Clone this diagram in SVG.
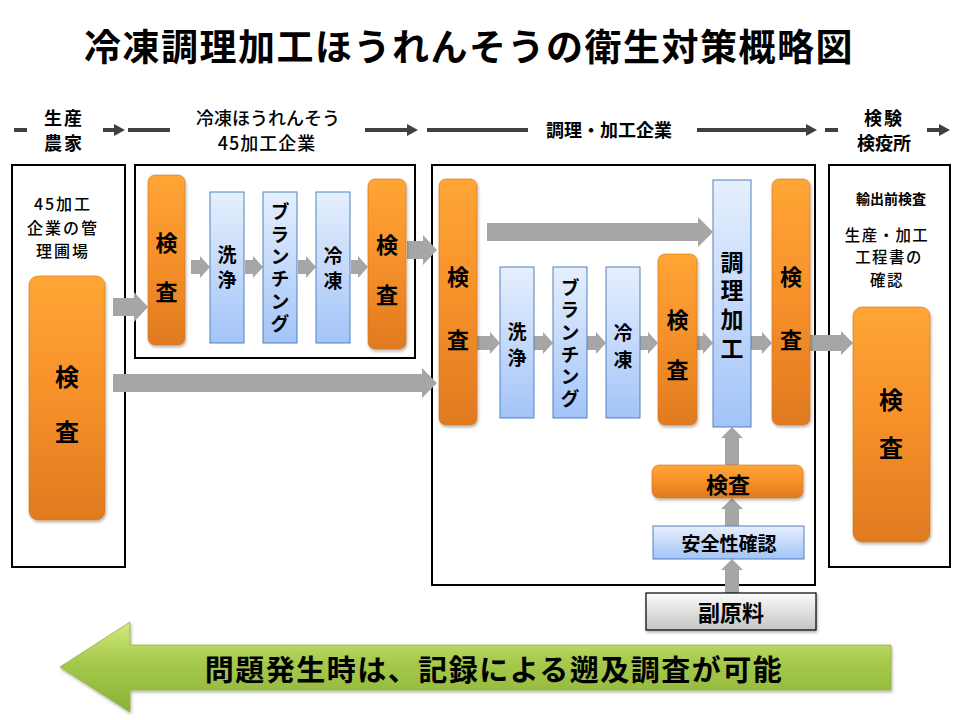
<svg xmlns="http://www.w3.org/2000/svg" width="960" height="720" viewBox="0 0 960 720">
<defs>
<linearGradient id="gO" x1="0" y1="0" x2="0" y2="1"><stop offset="0" stop-color="#FFA535"/><stop offset="0.5" stop-color="#F6902A"/><stop offset="1" stop-color="#E07A1F"/></linearGradient>
<linearGradient id="gB" x1="0" y1="0" x2="0" y2="1"><stop offset="0" stop-color="#E6EFFD"/><stop offset="1" stop-color="#A3C4F8"/></linearGradient>
<linearGradient id="gG" x1="0" y1="0" x2="0" y2="1"><stop offset="0" stop-color="#D2EA80"/><stop offset="0.45" stop-color="#A6C94B"/><stop offset="1" stop-color="#8AB236"/></linearGradient>
<linearGradient id="gS" x1="0" y1="0" x2="0" y2="1"><stop offset="0" stop-color="#FBFBFB"/><stop offset="1" stop-color="#C4C4C4"/></linearGradient>
<filter id="sh" x="-20%" y="-20%" width="140%" height="140%"><feDropShadow dx="1" dy="2" stdDeviation="1.5" flood-color="#000" flood-opacity="0.3"/></filter>
<style>
text{font-family:"Noto Sans CJK JP","Noto Sans",sans-serif;text-anchor:middle;fill:#000}
.b{font-weight:bold}
.v{writing-mode:vertical-rl;text-anchor:start;font-weight:bold}
.frame{fill:none;stroke:#000;stroke-width:2}
.org{fill:url(#gO);stroke:#D27220;stroke-width:0.6;filter:url(#sh)}
.blu{fill:url(#gB);stroke:#4F81BD;stroke-width:1}
.arr{fill:#A6A6A6}
.hd{fill:#404040}
.hl{stroke:#404040;stroke-width:4}
</style>
</defs>
<rect width="960" height="720" fill="#fff"/>

<text x="469" y="61" class="b" font-size="37" letter-spacing="1.5">冷凍調理加工ほうれんそうの衛生対策概略図</text>

<!-- header -->
<g id="header">
<line class="hl" x1="14" y1="130" x2="27" y2="130"/>
<line class="hl" x1="103" y1="130" x2="116" y2="130"/><polygon class="hd" points="114,124 125,130 114,136"/>
<line class="hl" x1="128" y1="130" x2="170" y2="130"/>
<line class="hl" x1="365" y1="130" x2="409" y2="130"/><polygon class="hd" points="407,124 418,130 407,136"/>
<line class="hl" x1="427" y1="130" x2="528" y2="130"/>
<line class="hl" x1="697" y1="130" x2="808" y2="130"/><polygon class="hd" points="806,124 817,130 806,136"/>
<line class="hl" x1="825" y1="130" x2="838" y2="130"/>
<line class="hl" x1="927" y1="130" x2="941" y2="130"/><polygon class="hd" points="939,124 950,130 939,136"/>
<text class="b" font-size="18" letter-spacing="2"><tspan x="64" y="125">生産</tspan><tspan x="64" y="150">農家</tspan></text>
<text font-size="18" font-weight="500"><tspan x="268" y="125">冷凍ほうれんそう</tspan><tspan x="267" y="150" letter-spacing="1">45加工企業</tspan></text>
<text x="609" y="137" class="b" font-size="18">調理・加工企業</text>
<text class="b" font-size="18"><tspan x="884" y="125" letter-spacing="2">検験</tspan><tspan x="884" y="150">検疫所</tspan></text>
</g>

<!-- frames -->
<g id="frames">
<rect class="frame" x="12" y="165" width="113" height="402"/>
<rect class="frame" x="135" y="165" width="280" height="193"/>
<rect class="frame" x="432" y="165" width="383" height="420"/>
<rect class="frame" x="829" y="165" width="121" height="402"/>
</g>

<!-- connectors -->
<g id="connectors">
<polygon class="arr" points="113,298 134,298 134,292 148,307 134,322 134,316 113,316"/>
<polygon class="arr" points="113,374 422,374 422,368 437,383 422,398 422,392 113,392"/>
<polygon class="arr" points="191,260 200,260 200,256 210,267 200,278 200,274 191,274"/>
<polygon class="arr" points="245,260 253,260 253,256 263,267 253,278 253,274 245,274"/>
<polygon class="arr" points="298,260 306,260 306,256 316,267 306,278 306,274 298,274"/>
<polygon class="arr" points="351,260 358,260 358,256 368,267 358,278 358,274 351,274"/>
<polygon class="arr" points="407,241 423,241 423,235 437,250 423,265 423,259 407,259"/>
<polygon class="arr" points="487,223 698,223 698,217 713,232 698,247 698,241 487,241"/>
<polygon class="arr" points="477,336 490,336 490,332 500,343 490,354 490,350 477,350"/>
<polygon class="arr" points="534,336 543,336 543,332 553,343 543,354 543,350 534,350"/>
<polygon class="arr" points="587,336 596,336 596,332 606,343 596,354 596,350 587,350"/>
<polygon class="arr" points="640,336 648,336 648,332 658,343 648,354 648,350 640,350"/>
<polygon class="arr" points="697,336 703,336 703,332 713,343 703,354 703,350 697,350"/>
<polygon class="arr" points="751,336 762,336 762,332 772,343 762,354 762,350 751,350"/>
<polygon class="arr" points="810,335 841,335 841,331 853,343 841,355 841,351 810,351"/>
<polygon class="arr" points="725,465 725,438 721,438 732,427 743,438 739,438 739,465"/>
<polygon class="arr" points="725,526 725,509 721,509 732,498 743,509 739,509 739,526"/>
<polygon class="arr" points="725,593 725,570 721,570 732,559 743,570 739,570 739,593"/>
</g>

<!-- left farm -->
<g id="farm-text">
<text font-size="16" font-weight="500" letter-spacing="2"><tspan x="63" y="210">45加工</tspan><tspan x="63" y="233.5">企業の管</tspan><tspan x="63" y="257">理圃場</tspan></text>
</g>
<g id="farm-check">
<rect class="org" x="29" y="276" width="76" height="244" rx="9"/>
<text x="67" y="386" class="b" font-size="24">検</text>
<text x="67" y="441" class="b" font-size="24">査</text>
</g>

<!-- 45 processing -->
<g id="p-check1">
<rect class="org" x="148" y="175" width="37" height="170" rx="7"/>
<text x="166.5" y="251" class="b" font-size="22">検</text>
<text x="166.5" y="300" class="b" font-size="22">査</text>
</g>
<g id="p-wash">
<rect class="blu" x="210" y="192" width="34" height="151"/>
<text x="227" y="245.5" class="v" font-size="19" letter-spacing="6">洗浄</text>
</g>
<g id="p-blanch">
<rect class="blu" x="263" y="192" width="34" height="151"/>
<text x="280" y="202.5" class="v" font-size="19" letter-spacing="3.4">ブランチング</text>
</g>
<g id="p-freeze">
<rect class="blu" x="316" y="192" width="34" height="151"/>
<text x="333" y="246.5" class="v" font-size="19" letter-spacing="6">冷凍</text>
</g>
<g id="p-check2">
<rect class="org" x="368" y="179" width="38" height="170" rx="7"/>
<text x="387" y="253" class="b" font-size="22">検</text>
<text x="387" y="303" class="b" font-size="22">査</text>
</g>

<!-- cooking company -->
<g id="c-checkA">
<rect class="org" x="439" y="179" width="38" height="246" rx="7"/>
<text x="458" y="285" class="b" font-size="22">検</text>
<text x="458" y="348" class="b" font-size="22">査</text>
</g>
<g id="c-wash">
<rect class="blu" x="500" y="267" width="34" height="151"/>
<text x="517" y="322.5" class="v" font-size="19" letter-spacing="7">洗浄</text>
</g>
<g id="c-blanch">
<rect class="blu" x="553" y="267" width="34" height="151"/>
<text x="570" y="278.5" class="v" font-size="19" letter-spacing="3.2">ブランチング</text>
</g>
<g id="c-freeze">
<rect class="blu" x="606" y="267" width="34" height="151"/>
<text x="623" y="323.5" class="v" font-size="19" letter-spacing="8">冷凍</text>
</g>
<g id="c-checkB">
<rect class="org" x="658" y="254" width="39" height="171" rx="7"/>
<text x="677.5" y="328" class="b" font-size="22">検</text>
<text x="677.5" y="378" class="b" font-size="22">査</text>
</g>
<g id="c-cook">
<rect class="blu" x="713" y="180" width="38" height="247"/>
<text x="732" y="250.5" class="v" font-size="23" letter-spacing="5.7">調理加工</text>
</g>
<g id="c-checkC">
<rect class="org" x="772" y="179" width="38" height="246" rx="7"/>
<text x="791" y="285" class="b" font-size="22">検</text>
<text x="791" y="348" class="b" font-size="22">査</text>
</g>
<g id="c-check-sub">
<rect class="org" x="652" y="465" width="151" height="33" rx="7"/>
<text x="728" y="493" class="b" font-size="22">検査</text>
</g>
<g id="c-safety">
<rect class="blu" x="653" y="526" width="151" height="33"/>
<text x="729" y="551" class="b" font-size="19">安全性確認</text>
</g>
<g id="sub-material">
<rect x="646" y="593" width="170" height="37" fill="url(#gS)" stroke="#000" stroke-width="1.2" filter="url(#sh)"/>
<text x="731" y="621" class="b" font-size="22">副原料</text>
</g>

<!-- inspection station -->
<g id="inspection-text">
<text x="891" y="204" class="b" font-size="14">輸出前検査</text>
<text font-size="15.4" font-weight="500" letter-spacing="1.5"><tspan x="887" y="240.7">生産・加工</tspan><tspan x="889" y="263.2">工程書の</tspan><tspan x="887" y="285.7">確認</tspan></text>
</g>
<g id="inspection-check">
<rect class="org" x="853" y="307" width="77" height="235" rx="9"/>
<text x="891" y="409" class="b" font-size="24">検</text>
<text x="891" y="457" class="b" font-size="24">査</text>
</g>

<!-- traceback arrow -->
<g id="traceback">
<polygon points="60,667 130,622 130,645 891,645 891,690 130,690 130,712" fill="url(#gG)" stroke="#8FB33C" stroke-width="0.8" filter="url(#sh)"/>
<text x="494" y="681" class="b" font-size="29" letter-spacing="1.5">問題発生時は、記録による遡及調査が可能</text>
</g>
</svg>
